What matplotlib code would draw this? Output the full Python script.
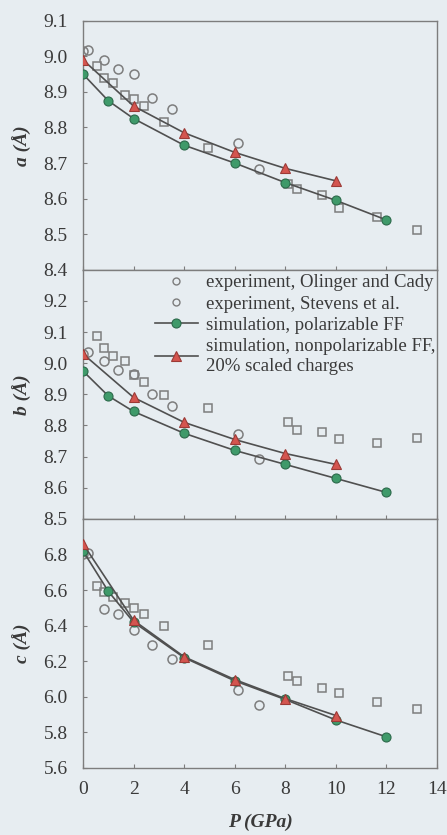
import matplotlib
matplotlib.use("Agg")
import matplotlib.pyplot as plt
from matplotlib.lines import Line2D

plt.rcParams['font.family'] = ['Liberation Serif', 'DejaVu Serif']

BG = '#e7edf1'
TXT = '#3a3a3a'
GRAY = '#7d7d7d'
GREEN = '#3f9a6a'
GREEN_EDGE = '#2c6a4b'
RED = '#d4554f'
RED_EDGE = '#9c3a36'
LINE = '#505050'

# simulations
p_pol = [0, 1, 2, 4, 6, 8, 10, 12]
p_nonpol = [0, 2, 4, 6, 8, 10]

a_pol = [8.95, 8.875, 8.825, 8.75, 8.70, 8.645, 8.595, 8.54]
a_nonpol = [8.99, 8.86, 8.785, 8.73, 8.685, 8.65]
b_pol = [8.975, 8.895, 8.845, 8.775, 8.72, 8.675, 8.63, 8.585]
b_nonpol = [9.03, 8.89, 8.81, 8.755, 8.71, 8.675]
c_pol = [6.82, 6.593, 6.42, 6.22, 6.09, 5.985, 5.87, 5.775]
c_nonpol = [6.86, 6.43, 6.225, 6.097, 5.99, 5.895]

# experiment, Stevens et al. (circles)
p_stevens = [0.0, 0.2, 0.84, 1.37, 2.03, 2.71, 3.5, 6.14, 6.97]
a_stevens = [9.015, 9.018, 8.99, 8.965, 8.949, 8.884, 8.851, 8.757, 8.684]
b_stevens = [9.03, 9.037, 9.007, 8.978, 8.964, 8.90, 8.861, 8.773, 8.691]
c_stevens = [6.80, 6.81, 6.494, 6.463, 6.374, 6.291, 6.211, 6.036, 5.952]

# experiment, Olinger and Cady (squares)
p_olinger = [0.54, 0.84, 1.2, 1.66, 2.03, 2.41, 3.2, 4.93, 8.11, 8.47, 9.47, 10.13, 11.61, 13.2]
a_olinger = [8.972, 8.94, 8.925, 8.892, 8.88, 8.86, 8.816, 8.743, 8.64, 8.628, 8.609, 8.574, 8.549, 8.512]
b_olinger = [9.086, 9.049, 9.022, 9.006, 8.962, 8.941, 8.898, 8.856, 8.811, 8.787, 8.779, 8.758, 8.744, 8.76]
c_olinger = [6.624, 6.59, 6.563, 6.526, 6.50, 6.463, 6.397, 6.291, 6.115, 6.087, 6.047, 6.022, 5.972, 5.93]

panels = [
    ('a (Å)', a_pol, a_nonpol, a_stevens, a_olinger, (8.4, 9.1), [8.4, 8.5, 8.6, 8.7, 8.8, 8.9, 9.0, 9.1]),
    ('b (Å)', b_pol, b_nonpol, b_stevens, b_olinger, (8.5, 9.3), [8.5, 8.6, 8.7, 8.8, 8.9, 9.0, 9.1, 9.2]),
    ('c (Å)', c_pol, c_nonpol, c_stevens, c_olinger, (5.6, 7.0), [5.6, 5.8, 6.0, 6.2, 6.4, 6.6, 6.8]),
]

fig = plt.figure(figsize=(4.47, 8.35), dpi=100, facecolor=BG)

left, width = 83 / 447, 354 / 447
h = 249.1 / 835
bottom0 = 1 - 768 / 835

axes = []
for i, (ylab, pol, nonpol, stev, olin, ylim, yticks) in enumerate(panels):
    ax = fig.add_axes([left, bottom0 + (2 - i) * h, width, h], facecolor=BG)
    axes.append(ax)

    ax.plot(p_olinger, olin, ls='none', marker='s', ms=5.5, mfc='none', mec=GRAY, mew=1.1, zorder=2)
    ax.plot(p_stevens, stev, ls='none', marker='o', ms=6.5, mfc='none', mec=GRAY, mew=1.1, zorder=2)
    ax.plot(p_pol, pol, color=LINE, lw=1.2, marker='o', ms=6.5, mfc=GREEN, mec=GREEN_EDGE, mew=0.8, zorder=3)
    ax.plot(p_nonpol, nonpol, color=LINE, lw=1.2, marker='^', ms=7, mfc=RED, mec=RED_EDGE, mew=0.8, zorder=4)

    ax.set_xlim(0, 14)
    ax.set_ylim(*ylim)
    ax.set_yticks(yticks)
    ax.set_yticklabels([f'{t:.1f}' for t in yticks])
    ax.set_xticks(range(0, 15, 2))
    ax.tick_params(direction='in', length=3, width=0.8, color=GRAY, labelcolor=TXT, labelsize=14)
    ax.tick_params(axis='y', pad=11)
    ax.tick_params(axis='x', pad=9)
    if i < 2:
        ax.tick_params(labelbottom=False)
    for s in ax.spines.values():
        s.set_color(GRAY)
        s.set_linewidth(1.0)
    ax.set_ylabel(ylab, fontsize=14, fontstyle='italic', fontweight='bold', color=TXT, labelpad=8)

axes[2].set_xlabel('P (GPa)', fontsize=14, fontstyle='italic', fontweight='bold', color=TXT, labelpad=12)

handles = [
    Line2D([], [], ls='none', marker='o', ms=5, mfc='none', mec=GRAY, mew=1.0),
    Line2D([], [], ls='none', marker='o', ms=5, mfc='none', mec=GRAY, mew=1.0),
    Line2D([], [], color=LINE, lw=1.2, marker='o', ms=6.5, mfc=GREEN, mec=GREEN_EDGE, mew=0.8),
    Line2D([], [], color=LINE, lw=1.2, marker='^', ms=7, mfc=RED, mec=RED_EDGE, mew=0.8),
]
labels = [
    'experiment, Olinger and Cady',
    'experiment, Stevens et al.',
    'simulation, polarizable FF',
    'simulation, nonpolarizable FF,\n20% scaled charges',
]
leg = axes[1].legend(handles, labels, loc='upper left', bbox_to_anchor=(0.165, 1.035),
                     frameon=False, fontsize=13.5, handlelength=2.3, handletextpad=0.45,
                     labelspacing=0.22, borderpad=0.2)
for t in leg.get_texts():
    t.set_color(TXT)

fig.savefig('out.png', dpi=100, facecolor=BG)
